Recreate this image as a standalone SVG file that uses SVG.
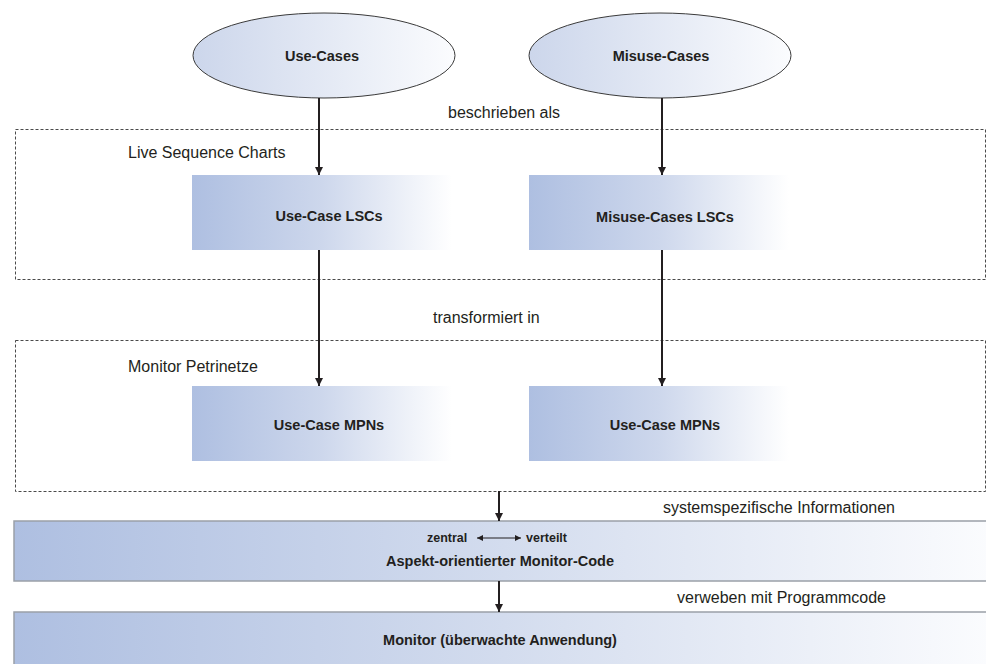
<svg xmlns="http://www.w3.org/2000/svg" width="986" height="664" viewBox="0 0 986 664">
<defs>
<linearGradient id="gBox" x1="0" y1="0" x2="1" y2="0">
<stop offset="0" stop-color="#aebfe1"/>
<stop offset="0.5" stop-color="#cdd7ec"/>
<stop offset="1" stop-color="#ffffff"/>
</linearGradient>
<linearGradient id="gBand" x1="0" y1="0" x2="1" y2="0">
<stop offset="0" stop-color="#aebfe1"/>
<stop offset="0.5" stop-color="#d3dcee"/>
<stop offset="1" stop-color="#fbfcfe"/>
</linearGradient>
<linearGradient id="gEll" x1="0" y1="0" x2="1" y2="0">
<stop offset="0" stop-color="#ccd6eb"/>
<stop offset="1" stop-color="#fbfcfe"/>
</linearGradient>
<marker id="ah" viewBox="0 0 10 10" refX="10" refY="5" markerWidth="4" markerHeight="5" orient="auto" markerUnits="strokeWidth">
<path d="M0,0 L10,5 L0,10 z" fill="#231f20"/>
</marker>
<marker id="ahs" viewBox="0 0 10 10" refX="10" refY="5" markerWidth="6" markerHeight="5" orient="auto-start-reverse" markerUnits="strokeWidth">
<path d="M0,0 L10,5 L0,10 z" fill="#231f20"/>
</marker>
</defs>
<style>
text{font-family:"Liberation Sans",Arial,sans-serif;fill:#231f20}
.lbl{font-size:16px}
.b{font-size:14.5px;font-weight:bold}
.sm{font-size:12.5px;font-weight:bold}
.dash{fill:none;stroke:#4a4a4a;stroke-width:1;stroke-dasharray:3 2}
.ell{fill:url(#gEll);stroke:#3a3a3a;stroke-width:1}
.box{fill:url(#gBox)}
.band{fill:url(#gBand);stroke:#9aa0a8;stroke-width:1.5}
.arr{stroke:#231f20;stroke-width:2;fill:none;marker-end:url(#ah)}
</style>
<rect width="986" height="664" fill="#ffffff"/>

<g id="frame-lsc">
<rect class="dash" x="15.5" y="129.5" width="970" height="150"/>
<text class="lbl" x="128" y="158">Live Sequence Charts</text>
</g>
<g id="frame-mpn">
<rect class="dash" x="15.5" y="340.5" width="970" height="151"/>
<text class="lbl" x="128" y="372">Monitor Petrinetze</text>
</g>

<g id="use-cases">
<ellipse class="ell" cx="324" cy="55.5" rx="131" ry="42.5"/>
<text class="b" x="322" y="61" text-anchor="middle">Use-Cases</text>
</g>
<g id="misuse-cases">
<ellipse class="ell" cx="660" cy="55.5" rx="131" ry="42.5"/>
<text class="b" x="661" y="61" text-anchor="middle">Misuse-Cases</text>
</g>

<g id="use-case-lsc">
<rect class="box" x="192" y="175" width="260" height="75"/>
<text class="b" x="329" y="221" text-anchor="middle">Use-Case LSCs</text>
</g>
<g id="misuse-case-lsc">
<rect class="box" x="529" y="175" width="260" height="75"/>
<text class="b" x="665" y="222" text-anchor="middle">Misuse-Cases LSCs</text>
</g>

<g id="use-case-mpn">
<rect class="box" x="192" y="386" width="260" height="75"/>
<text class="b" x="329" y="430" text-anchor="middle">Use-Case MPNs</text>
</g>
<g id="misuse-case-mpn">
<rect class="box" x="529" y="386" width="260" height="75"/>
<text class="b" x="665" y="430" text-anchor="middle">Use-Case MPNs</text>
</g>

<g id="monitor-code">
<rect class="band" x="14" y="521" width="980" height="60"/>
<text class="sm" x="427" y="542">zentral</text>
<line x1="477" y1="538" x2="521" y2="538" stroke="#231f20" stroke-width="1.2" marker-start="url(#ahs)" marker-end="url(#ahs)"/>
<text class="sm" x="526" y="542">verteilt</text>
<text class="b" x="500" y="566" text-anchor="middle">Aspekt-orientierter Monitor-Code</text>
</g>
<g id="monitor">
<rect class="band" x="14" y="612" width="980" height="60"/>
<text class="b" x="500" y="645" text-anchor="middle">Monitor (überwachte Anwendung)</text>
</g>

<g id="connectors">
<line class="arr" x1="319" y1="98" x2="319" y2="175"/>
<line class="arr" x1="662" y1="98" x2="662" y2="175"/>
<line class="arr" x1="319" y1="250" x2="319" y2="386"/>
<line class="arr" x1="662" y1="250" x2="662" y2="386"/>
<line class="arr" x1="499" y1="491" x2="499" y2="521"/>
<line class="arr" x1="499" y1="581" x2="499" y2="612"/>
<text class="lbl" x="448" y="118">beschrieben als</text>
<text class="lbl" x="433" y="323">transformiert in</text>
<text class="lbl" x="895" y="513" text-anchor="end">systemspezifische Informationen</text>
<text class="lbl" x="886" y="603" text-anchor="end">verweben mit Programmcode</text>
</g>
</svg>
